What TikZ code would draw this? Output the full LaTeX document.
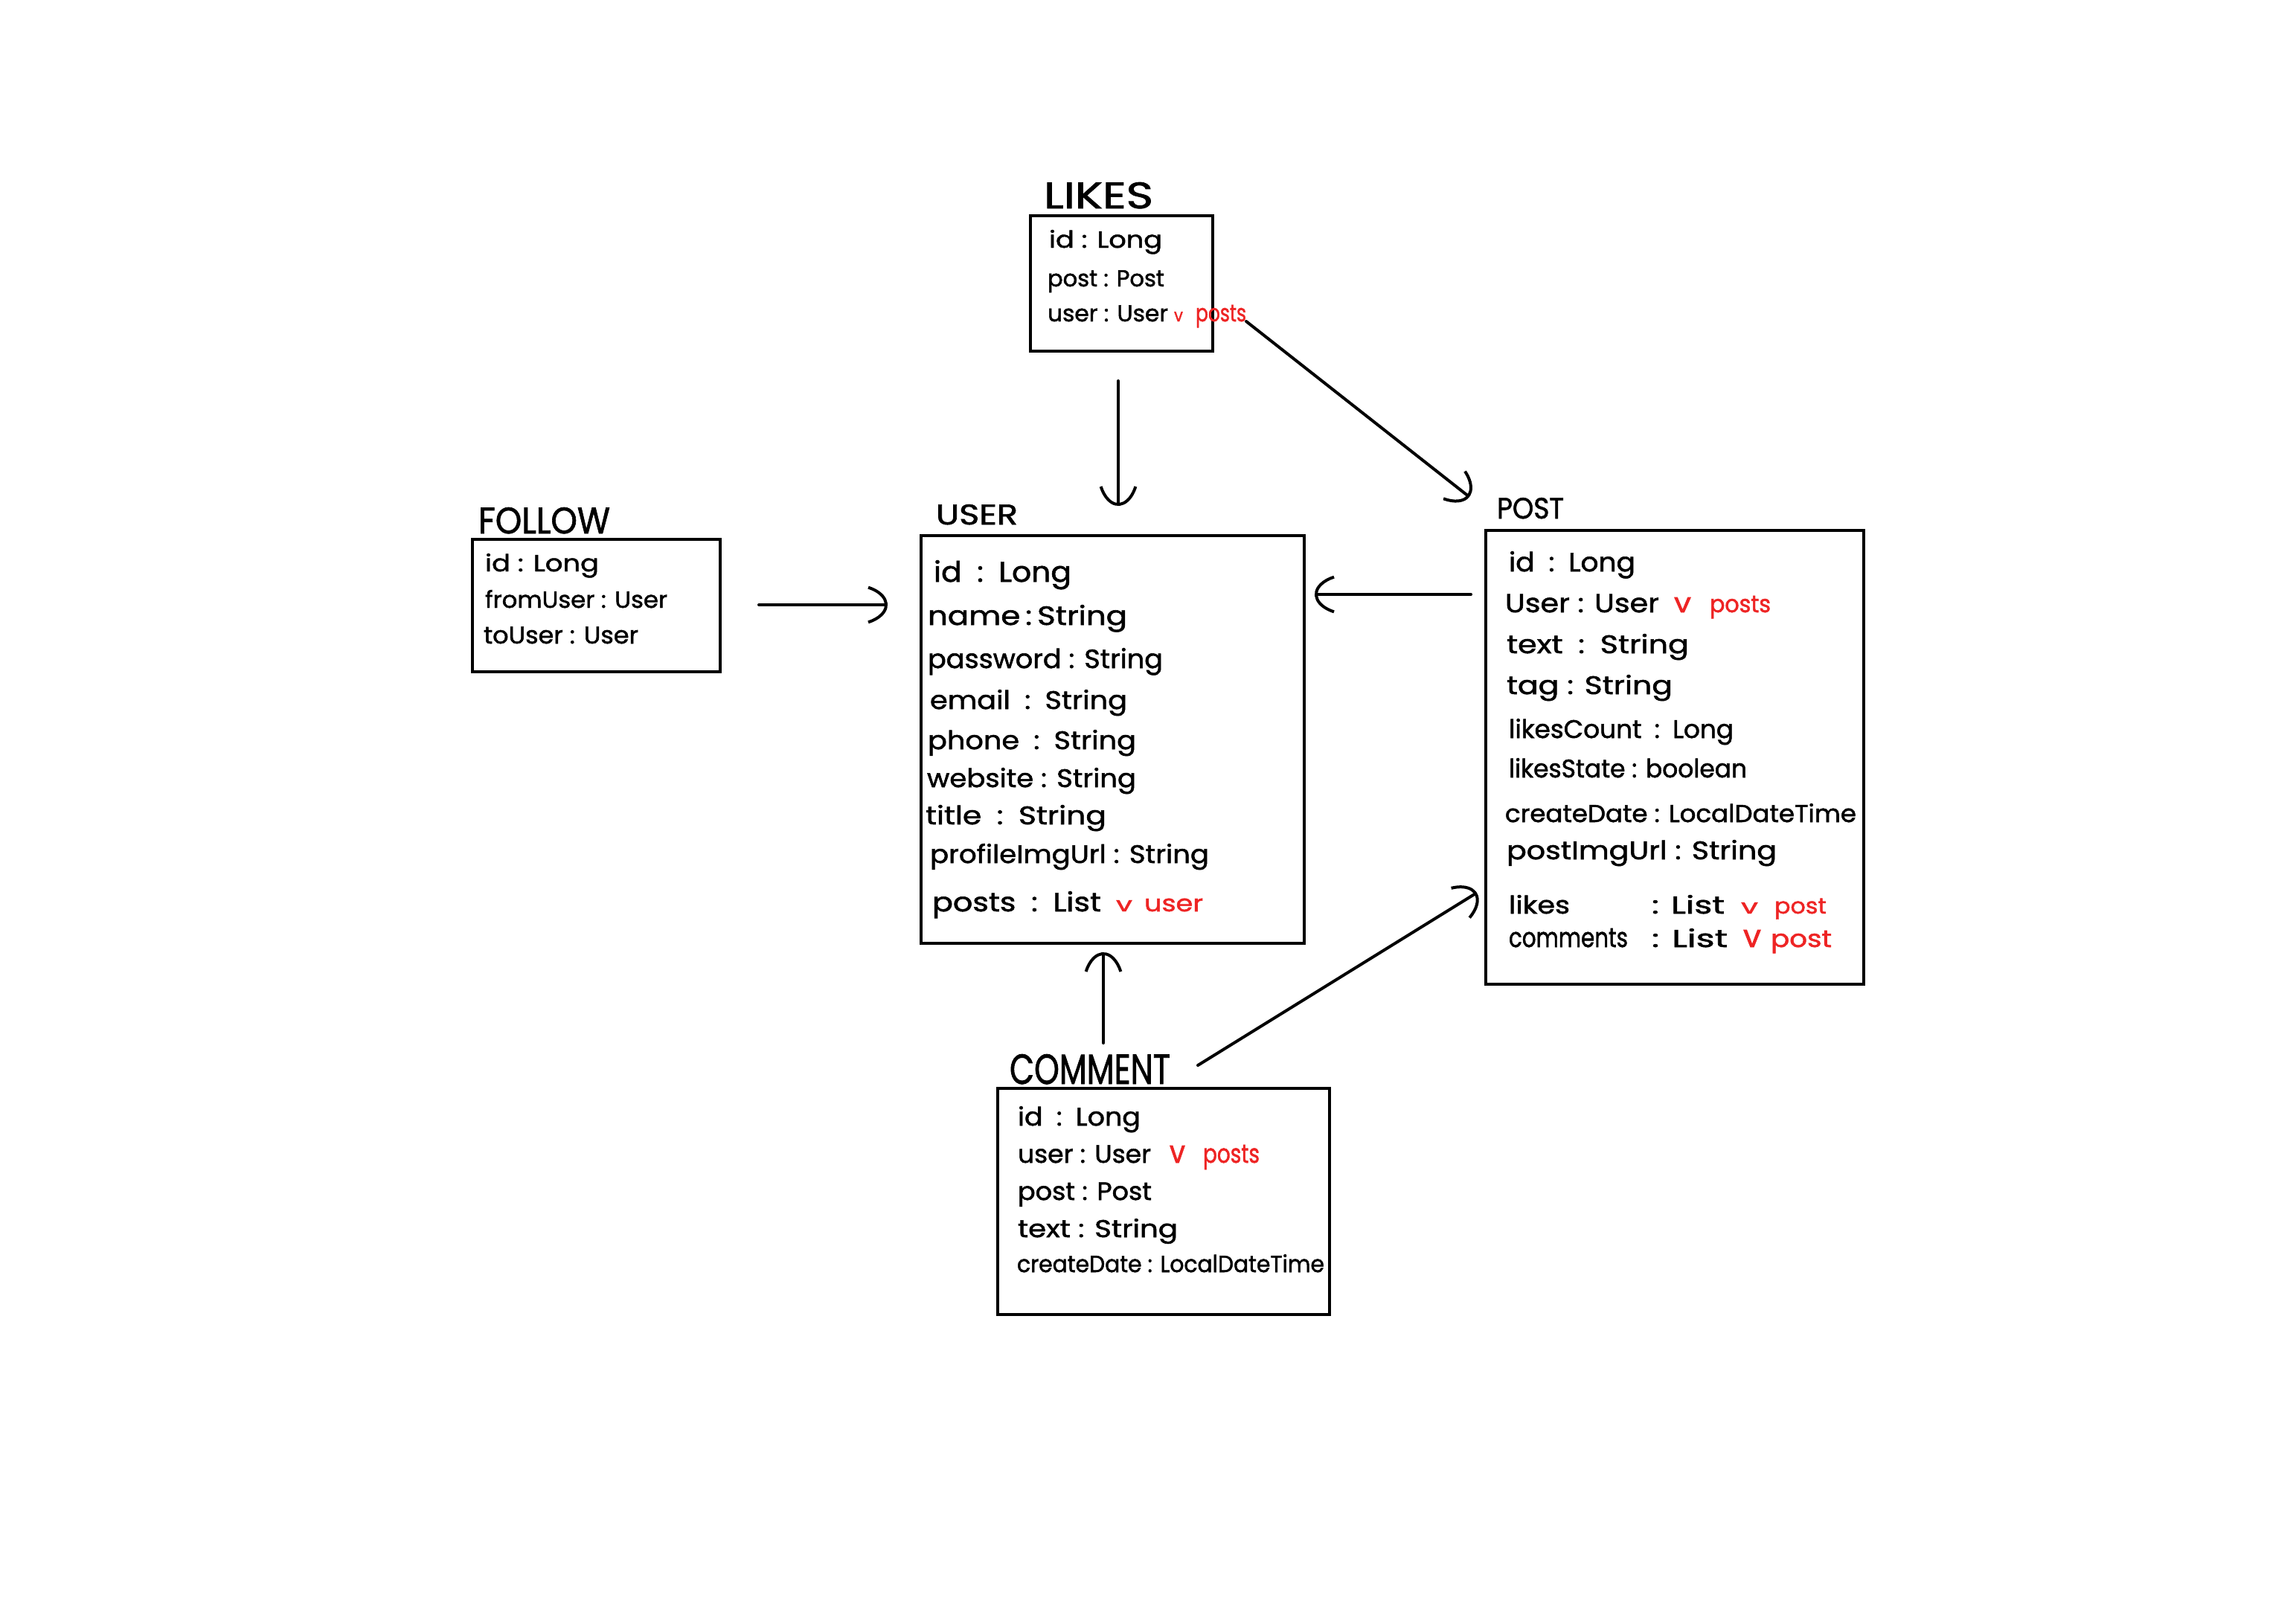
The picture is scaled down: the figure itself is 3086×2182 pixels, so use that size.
\documentclass[tikz,border=0pt]{standalone}
\usepackage{fontspec}
\usepackage{graphicx}
\setmainfont{Poppins}[FakeBold=1.5]
\usetikzlibrary{arrows.meta}
\definecolor{refred}{RGB}{238,36,36}
\newcommand\fl[3]{\resizebox{#1pt}{#2pt}{\vphantom{dL}#3}}
\newcommand\fwh[3]{\resizebox{#1pt}{#2pt}{#3}}
\tikzset{
  box/.style={draw, line width=4.5pt, inner sep=0pt, outer sep=0pt},
  fld/.style={anchor=base west, inner sep=0pt, outer sep=0pt, font=\fontsize{20}{24}\selectfont},
  redf/.style={fld, text=refred},
  ttl/.style={fld},
  arr/.style={line width=4pt, line cap=round, -{Arc Barb[arc=120,width=58pt,length=50pt]}}
}
\begin{document}
\begin{tikzpicture}[x=1pt,y=-1pt]
\fill[white] (0,0) rectangle (3086,2182);
\useasboundingbox (0,0) rectangle (3086,2182);

% boxes
\node[box, minimum width=245pt, minimum height=182pt] (likes) at (1507.5,381) {};
\node[box, minimum width=333pt, minimum height=178pt] (follow) at (801.5,814) {};
\node[box, minimum width=515pt, minimum height=548pt] (user) at (1495.5,994) {};
\node[box, minimum width=508pt, minimum height=610pt] (post) at (2251,1018) {};
\node[box, minimum width=446pt, minimum height=304pt] (comment) at (1564,1615) {};

% titles
\node[ttl] (tlikes) at (1403,280) {\fwh{147}{35}{LIKES}};
\node[ttl] (tfollow) at (643,717) {\fwh{177}{35}{FOLLOW}};
\node[ttl] (tuser) at (1258,705) {\fwh{110}{27}{USER}};
\node[ttl] (tpost) at (2012,697) {\fwh{90}{28}{POST}};
\node[ttl] (tcomment) at (1357,1457) {\fwh{216}{40}{COMMENT}};

% LIKES fields
\node[fld] (lk1) at (1410,333) {\fl{152}{24}{id : Long}};
\node[fld] (lk2) at (1408,385) {\fl{157}{23}{post : Post}};
\node[fld] (lk3) at (1408,432) {\fl{162}{23}{user : User}};
\node[redf] (lk3v) at (1578,432) {\fwh{12}{13}{v}};
\node[redf] (lk3p) at (1607,432) {\fl{68}{24}{posts}};

% FOLLOW fields
\node[fld] (fo1) at (652,768) {\fl{153}{24}{id : Long}};
\node[fld] (fo2) at (652,817) {\fl{245}{24}{fromUser : User}};
\node[fld] (fo3) at (650,865) {\fl{208}{24}{toUser : User}};

% USER fields
\node[fld] (us1) at (1255,782) {\fl{185}{29}{id\enspace:\enspace Long}};
\node[fld] (us2) at (1247,840) {\fl{268}{27}{name\,:\,String}};
\node[fld] (us3) at (1247,898) {\fl{316}{27}{password : String}};
\node[fld] (us4) at (1250,953) {\fl{265}{26}{email\enspace:\enspace String}};
\node[fld] (us5) at (1247,1007) {\fl{280}{26}{phone\enspace:\enspace String}};
\node[fld] (us6) at (1246,1058) {\fl{281}{26}{website : String}};
\node[fld] (us7) at (1244,1108) {\fl{243}{26}{title\enspace:\enspace String}};
\node[fld] (us8) at (1250,1160) {\fl{375}{26}{profileImgUrl : String}};
\node[fld] (us9) at (1253,1225) {\fl{227}{27}{posts\enspace:\enspace List}};
\node[redf] (us9v) at (1500,1225) {\fwh{22}{15}{v}};
\node[redf] (us9u) at (1538,1225) {\fl{79}{23}{user}};

% POST fields
\node[fld] (po1) at (2028,768) {\fl{170}{27}{id\enspace:\enspace Long}};
\node[fld] (po2) at (2023,823) {\fl{207}{26}{User : User}};
\node[redf] (po2v) at (2250,823) {\fwh{23}{20}{v}};
\node[redf] (po2p) at (2298,823) {\fl{82}{24}{posts}};
\node[fld] (po3) at (2025,878) {\fl{245}{26}{text\enspace:\enspace String}};
\node[fld] (po4) at (2025,933) {\fl{223}{26}{tag : String}};
\node[fld] (po5) at (2028,992) {\fl{302}{26}{likesCount\enspace:\enspace Long}};
\node[fld] (po6) at (2028,1045) {\fl{320}{26}{likesState : boolean}};
\node[fld] (po7) at (2023,1105) {\fl{472}{25}{createDate : LocalDateTime}};
\node[fld] (po8) at (2025,1155) {\fl{363}{26}{postImgUrl : String}};
\node[fld] (po9) at (2028,1228) {\fl{82}{25}{likes}};
\node[fld] (po9c) at (2220,1228) {\fl{98}{25}{: List}};
\node[redf] (po9v) at (2340,1228) {\fwh{23}{15}{v}};
\node[redf] (po9p) at (2385,1228) {\fl{70}{22}{post}};
\node[fld] (po10) at (2028,1273) {\fl{160}{27}{comments}};
\node[fld] (po10c) at (2220,1273) {\fl{102}{25}{: List}};
\node[redf] (po10v) at (2343,1273) {\fwh{24}{23}{v}};
\node[redf] (po10p) at (2380,1273) {\fl{82}{24}{post}};

% COMMENT fields
\node[fld] (co1) at (1368,1513) {\fl{165}{26}{id\enspace:\enspace Long}};
\node[fld] (co2) at (1368,1563) {\fl{179}{25}{user : User}};
\node[redf] (co2v) at (1572,1563) {\fwh{21}{23}{v}};
\node[redf] (co2p) at (1617,1563) {\fl{76}{26}{posts}};
\node[fld] (co3) at (1368,1613) {\fl{180}{25}{post : Post}};
\node[fld] (co4) at (1368,1663) {\fl{215}{25}{text : String}};
\node[fld] (co5) at (1367,1710) {\fl{413}{24}{createDate : LocalDateTime}};

% connectors
\draw[arr] ([xshift=-4.5pt,yshift=-40pt]likes.south) -- ([xshift=7.5pt,yshift=40pt]user.north);
\draw[arr] (lk3p.base east) -- ([xshift=-22pt,yshift=45pt]post.north west);
\draw[arr] ([xshift=52pt,yshift=1pt]follow.east) -- ([xshift=-45pt,yshift=181pt]user.west);
\draw[arr] ([xshift=-20pt,yshift=219pt]post.west) -- ([xshift=14pt,yshift=195pt]user.east);
\draw[arr] ([xshift=-81pt,yshift=61pt]comment.north) -- ([xshift=-12.5pt,yshift=-12pt]user.south);
\draw[arr] ([xshift=-177pt,yshift=31pt]comment.north east) -- ([xshift=-12pt,yshift=123pt]post.south west);
\end{tikzpicture}
\end{document}
